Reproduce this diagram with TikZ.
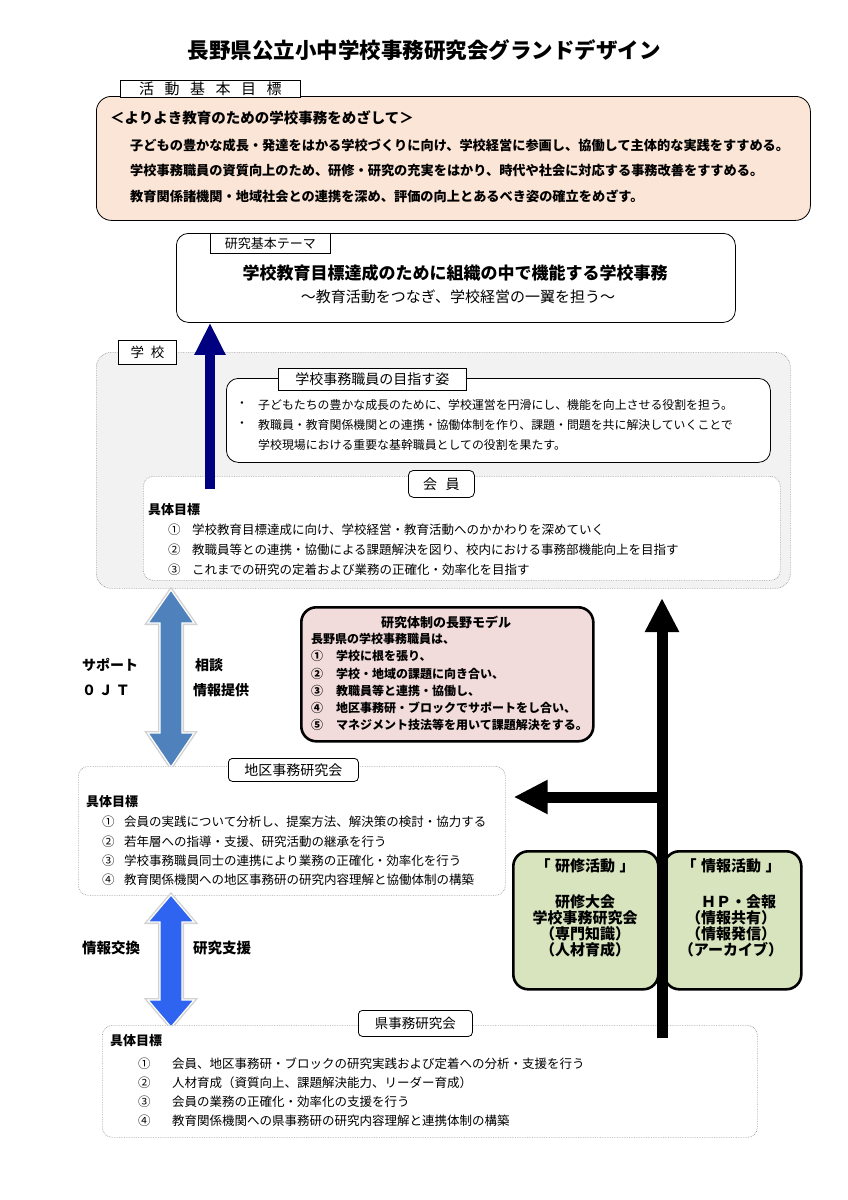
\documentclass[tikz,border=0pt]{standalone}
\usepackage{fontspec}
\setmainfont{Noto Sans CJK JP}
\usetikzlibrary{arrows.meta,calc}
\definecolor{peach}{HTML}{FBE5D6}
\definecolor{schoolgray}{HTML}{F2F2F2}
\definecolor{pinkbox}{HTML}{F2DCDB}
\definecolor{greenbox}{HTML}{D7E4BD}
\definecolor{navyarrow}{HTML}{000080}
\definecolor{blueA}{HTML}{4F81BD}
\definecolor{blueB}{HTML}{2E64F0}
\begin{document}
\begin{tikzpicture}[x=1pt,y=-1pt,
  fs/.style={font=\fontsize{#1}{#1}\selectfont},
  fb/.style={font=\fontsize{#1}{#1}\selectfont\bfseries},
  txt/.style={anchor=west, inner sep=0pt},
  ctr/.style={anchor=center, inner sep=0pt},
  framebox/.style={draw, anchor=north west, inner sep=0pt, line width=0.8pt},
  dotbox/.style={draw=gray!75, densely dotted, anchor=north west, inner sep=0pt, rounded corners=10pt, line width=0.7pt},
  tabbox/.style={draw, fill=white, anchor=north west, inner sep=0pt, line width=0.8pt},
  thickbox/.style={draw, anchor=north west, inner sep=0pt, rounded corners=15pt, line width=2.6pt},
  dblarrow/.style={line width=4pt, draw=gray!35},
  blackarrow/.style={line width=11pt, -{Triangle[length=34pt,width=32pt]}},
]
\useasboundingbox (0,0) rectangle (848,1200);
\fill[white] (0,0) rectangle (848,1200);

% title
\node[fb=21.5, ctr] (title) at (424,50) {長野県公立小中学校事務研究会グランドデザイン};

% activity goals
\node[framebox, fill=peach, rounded corners=15pt, minimum width=714pt, minimum height=124pt] (goal) at (96,96) {};
\node[tabbox, minimum width=180pt, minimum height=17pt, fs=15] (goaltab) at (120,80) {活\hspace{0.7em}動\hspace{0.7em}基\hspace{0.7em}本\hspace{0.7em}目\hspace{0.7em}標};
\node[txt, fb=14.5] (g0) at (110,118) {＜よりよき教育のための学校事務をめざして＞};
\node[txt, fb=13.2] (g1) at (130,145) {子どもの豊かな成長・発達をはかる学校づくりに向け、学校経営に参画し、協働して主体的な実践をすすめる。};
\node[txt, fb=13.2] (g2) at (130,170) {学校事務職員の資質向上のため、研修・研究の充実をはかり、時代や社会に対応する事務改善をすすめる。};
\node[txt, fb=13.2] (g3) at (130,196) {教育関係諸機関・地域社会との連携を深め、評価の向上とあるべき姿の確立をめざす。};

% research theme
\node[framebox, fill=white, rounded corners=12pt, minimum width=559pt, minimum height=89pt] (theme) at (176,233) {};
\node[tabbox, minimum width=120pt, minimum height=20pt, fs=13] (themetab) at (210,233) {研究基本テーマ};
\node[fb=17, ctr] (theme1) at (455,273) {学校教育目標達成のために組織の中で機能する学校事務};
\node[fs=15, ctr] (theme2) at (458,297) {～教育活動をつなぎ、学校経営の一翼を担う～};

% school
\node[dotbox, fill=schoolgray, rounded corners=15pt, minimum width=694pt, minimum height=236pt] (school) at (96,352) {};
\node[tabbox, minimum width=58pt, minimum height=24pt, fs=13.5] (schooltab) at (118,340) {学\hspace{0.5em}校};

\node[framebox, fill=white, rounded corners=12pt, minimum width=544pt, minimum height=84pt] (vision) at (226,378) {};
\node[tabbox, minimum width=188pt, minimum height=22pt, fs=14] (visiontab) at (278,368) {学校事務職員の目指す姿};
\node[txt, fs=11.8] (vb1) at (236,405) {・};
\node[txt, fs=11.9] (v1) at (258,405) {子どもたちの豊かな成長のために、学校運営を円滑にし、機能を向上させる役割を担う。};
\node[txt, fs=11.8] (vb2) at (236,425) {・};
\node[txt, fs=11.9] (v2) at (258,425) {教職員・教育関係機関との連携・協働体制を作り、課題・問題を共に解決していくことで};
\node[txt, fs=11.9] (v3) at (258,445) {学校現場における重要な基幹職員としての役割を果たす。};

\node[dotbox, fill=white, minimum width=637pt, minimum height=104pt] (member) at (143,476) {};
\node[tabbox, rounded corners=5pt, minimum width=66pt, minimum height=27pt, fs=14] (membertab) at (408,470) {会\hspace{0.6em}員};
\node[txt, fb=13] (mh) at (148,510) {具体目標};
\node[txt, fs=12.5] (mn1) at (168,530) {①};
\node[txt, fs=12.5] (m1) at (192,530) {学校教育目標達成に向け、学校経営・教育活動へのかかわりを深めていく};
\node[txt, fs=12.5] (mn2) at (168,550) {②};
\node[txt, fs=12.5] (m2) at (192,550) {教職員等との連携・協働による課題解決を図り、校内における事務部機能向上を目指す};
\node[txt, fs=12.5] (mn3) at (168,570) {③};
\node[txt, fs=12.5] (m3) at (192,570) {これまでの研究の定着および業務の正確化・効率化を目指す};

% navy arrow from member to theme
\coordinate (navystart) at (210,489);
\draw[navyarrow, line width=10pt, -{Triangle[length=32pt,width=29pt]}] (navystart) -- (theme.south -| navystart);

% upper blue double arrow
\draw[dblarrow, fill=blueA] (171,590) -- (194,623) -- (182,623) -- (182,733) -- (194,733) -- (171,767) -- (148,733) -- (160,733) -- (160,623) -- (148,623) -- cycle;
\draw[fill=blueA, draw=white, line width=1.2pt] (171,590) -- (194,623) -- (182,623) -- (182,733) -- (194,733) -- (171,767) -- (148,733) -- (160,733) -- (160,623) -- (148,623) -- cycle;
\node[txt, fb=14] (sup) at (82,665) {サポート};
\node[txt, fb=14] (ojt) at (82,690) {０\hspace{0.2em}Ｊ\hspace{0.2em}Ｔ};
\node[txt, fb=14] (sodan) at (195,665) {相談};
\node[txt, fb=14] (joho) at (193,690) {情報提供};

% Nagano model
\node[thickbox, fill=pinkbox, minimum width=292pt, minimum height=134pt] (model) at (300,606) {};
\node[fb=13, ctr] (modelt) at (446,622) {研究体制の長野モデル};
\node[txt, fb=12] (md0) at (311,639) {長野県の学校事務職員は、};
\node[txt, fb=12] (mdn1) at (311,656) {①};
\node[txt, fb=12] (md1) at (336,656) {学校に根を張り、};
\node[txt, fb=12] (mdn2) at (311,674) {②};
\node[txt, fb=12] (md2) at (336,674) {学校・地域の課題に向き合い、};
\node[txt, fb=12] (mdn3) at (311,691) {③};
\node[txt, fb=12] (md3) at (336,691) {教職員等と連携・協働し、};
\node[txt, fb=12] (mdn4) at (311,708) {④};
\node[txt, fb=12] (md4) at (336,708) {地区事務研・ブロックでサポートをし合い、};
\node[txt, fb=12] (mdn5) at (311,725) {⑤};
\node[txt, fb=12] (md5) at (336,725) {マネジメント技法等を用いて課題解決をする。};

% district
\node[dotbox, fill=white, minimum width=427pt, minimum height=129pt] (district) at (78,766) {};
\node[tabbox, rounded corners=4pt, minimum width=130pt, minimum height=23pt, fs=14] (districttab) at (228,758) {地区事務研究会};
\node[txt, fb=13] (dh) at (86,802) {具体目標};
\node[txt, fs=12.5] (dn1) at (102,822) {①};
\node[txt, fs=12.5] (d1) at (124,822) {会員の実践について分析し、提案方法、解決策の検討・協力する};
\node[txt, fs=12.5] (dn2) at (102,842) {②};
\node[txt, fs=12.5] (d2) at (124,842) {若年層への指導・支援、研究活動の継承を行う};
\node[txt, fs=12.5] (dn3) at (102,861) {③};
\node[txt, fs=12.5] (d3) at (124,861) {学校事務職員同士の連携により業務の正確化・効率化を行う};
\node[txt, fs=12.5] (dn4) at (102,880) {④};
\node[txt, fs=12.5] (d4) at (124,880) {教育関係機関への地区事務研の研究内容理解と協働体制の構築};

% green boxes
\node[thickbox, fill=greenbox, minimum width=145pt, minimum height=138pt] (training) at (512,850) {};
\node[thickbox, fill=greenbox, minimum width=137pt, minimum height=138pt] (info) at (663,850) {};
\node[fb=15, ctr] (trt) at (585,866) {「\hspace{0.3em}研修活動\hspace{0.3em}」};
\node[ctr, align=center, font=\fontsize{15}{16}\selectfont\bfseries] (trb) at (585,926) {研修大会\\学校事務研究会\\（専門知識）\\（人材育成）};
\node[fb=15, ctr] (ift) at (731,866) {「\hspace{0.3em}情報活動\hspace{0.3em}」};
\node[ctr, align=center, font=\fontsize{15}{16}\selectfont\bfseries] (ifb) at (731,926) {\hspace{1em}ＨＰ・会報\\（情報共有）\\（情報発信）\\（アーカイブ）};

% lower blue double arrow
\draw[dblarrow, fill=blueB] (171,895) -- (194,922) -- (182,922) -- (182,1000) -- (194,1000) -- (171,1027) -- (148,1000) -- (160,1000) -- (160,922) -- (148,922) -- cycle;
\draw[fill=blueB, draw=white, line width=1.2pt] (171,895) -- (194,922) -- (182,922) -- (182,1000) -- (194,1000) -- (171,1027) -- (148,1000) -- (160,1000) -- (160,922) -- (148,922) -- cycle;
\node[txt, fb=14.5] (jk) at (82,948) {情報交換};
\node[txt, fb=14.5] (ks) at (193,948) {研究支援};

% prefecture
\node[dotbox, fill=white, minimum width=655pt, minimum height=112pt] (pref) at (102,1025) {};
\node[tabbox, rounded corners=4pt, minimum width=114pt, minimum height=26pt, fs=13.5] (preftab) at (358,1010) {県事務研究会};
\node[txt, fb=13] (ph) at (110,1041) {具体目標};
\node[txt, fs=12.5] (pn1) at (138,1064) {①};
\node[txt, fs=12.5] (p1) at (172,1064) {会員、地区事務研・ブロックの研究実践および定着への分析・支援を行う};
\node[txt, fs=12.5] (pn2) at (138,1083) {②};
\node[txt, fs=12.5] (p2) at (172,1083) {人材育成（資質向上、課題解決能力、リーダー育成）};
\node[txt, fs=12.5] (pn3) at (138,1102) {③};
\node[txt, fs=12.5] (p3) at (172,1102) {会員の業務の正確化・効率化の支援を行う};
\node[txt, fs=12.5] (pn4) at (138,1121) {④};
\node[txt, fs=12.5] (p4) at (172,1121) {教育関係機関への県事務研の研究内容理解と連携体制の構築};

% black arrows
\coordinate (vbot) at (662,1038);
\coordinate (vtop) at (662,598);
\coordinate (hstart) at (667,797);
\coordinate (htip) at ($(district.east |- hstart)+(8,0)$);
\draw[blackarrow] (vbot) -- (vtop);
\draw[blackarrow] (hstart) -- (htip);
\end{tikzpicture}
\end{document}
